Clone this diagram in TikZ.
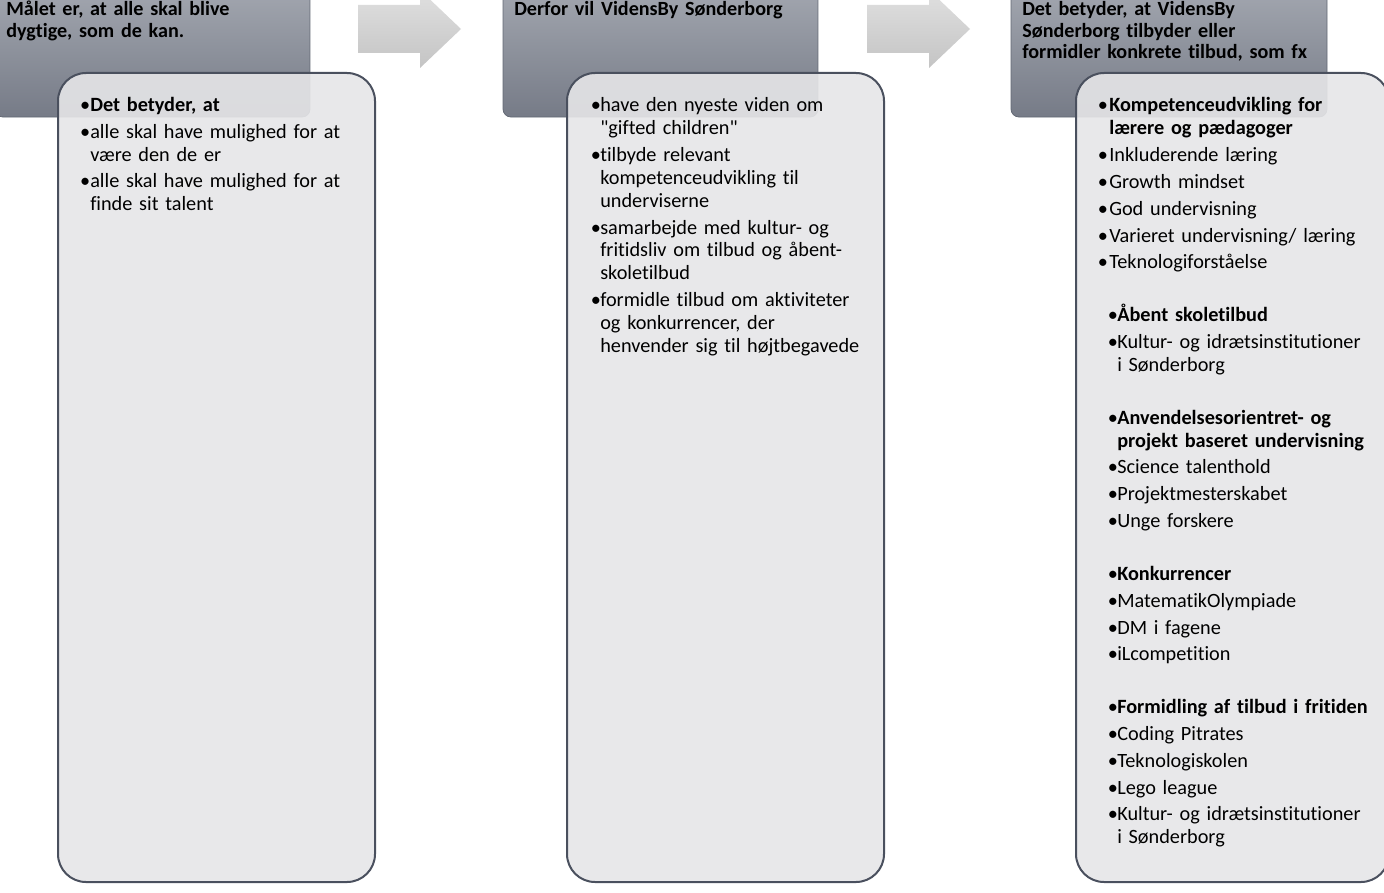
\documentclass[tikz,border=0pt]{standalone}
\usepackage{fontspec}
\setmainfont{Carlito}[Ligatures={CommonOff,TeXOff}]
\usetikzlibrary{positioning}
\definecolor{hdtop}{RGB}{172,176,184}
\definecolor{hdbot}{RGB}{118,123,135}
\definecolor{hdline}{RGB}{98,104,116}
\definecolor{boxfill}{RGB}{230,230,232}
\definecolor{boxline}{RGB}{74,80,94}
\definecolor{piltop}{RGB}{224,224,224}
\definecolor{pilbot}{RGB}{196,196,196}
% bullet hanging in the left margin
\newcommand{\pkt}[2][0pt]{\leavevmode\llap{•\kern#1}#2\par}
\newcommand{\grp}{\vspace{19.6pt}}

\begin{document}
\begin{tikzpicture}[x=0.75pt,y=-0.75pt,
  header/.style={top color=hdtop,bottom color=hdbot,draw=hdline,line width=0.6pt,rounded corners=6pt},
  felt/.style={fill=boxfill,fill opacity=0.9,draw=boxline,line width=1.5pt,rounded corners=21pt},
  pil/.style={top color=piltop,bottom color=pilbot},
  overskrift/.style={anchor=base west,inner sep=0pt,text width=300pt,align=left,
    font=\fontsize{15.1}{16.1}\selectfont\bfseries},
  punkter/.style={anchor=base west,inner sep=0pt,text width=300pt,align=left,
    font=\fontsize{15.2}{17.1}\selectfont}]
  \useasboundingbox (0,0) rectangle (1384,892);
  \clip (0,0) rectangle (1384,892);

  % Levels
  \def\HDBOT{117}
  \def\BOXTOP{73}
  \def\BOXBOT{882}

  % --- Headers ---
  \path[header] (-5,-40) rectangle (310,\HDBOT);
  \path[header] (503,-40) rectangle (818,\HDBOT);
  \path[header] (1011,-40) rectangle (1327,\HDBOT);

  % Block arrows
  \path[pil] (358,5) -- (420,5) -- (420,-10) -- (461,29)
    -- (420,68) -- (420,53) -- (358,53) -- cycle;
  \path[pil] (867,5) -- (929,5) -- (929,-10) -- (970,29)
    -- (929,68) -- (929,53) -- (867,53) -- cycle;

  % --- Boxes ---
  \path[felt] (58,\BOXTOP) rectangle (375,\BOXBOT);
  \path[felt] (567,\BOXTOP) rectangle (884,\BOXBOT);
  \path[felt] (1076,\BOXTOP) rectangle (1389,\BOXBOT);

  % Header texts
  \node[overskrift] (h1) at (6,16)
    {Målet er, at alle skal blive\\dygtige, som de kan.};
  \node[overskrift] (h2) at (514,16)
    {Derfor vil VidensBy Sønderborg};
  \node[overskrift] (h3) at (1022,16)
    {Det betyder, at VidensBy\\Sønderborg tilbyder eller\\formidler konkrete tilbud, som fx};

  % --- Column 1 ---
  \node[punkter] (t1) at (90,111.5) {\parindent=0pt\parskip=3pt%
    \pkt{\textbf{Det betyder, at}}%
    \pkt{alle skal have mulighed for at\newline være den de er}%
    \pkt{alle skal have mulighed for at\newline finde sit talent}};

  % --- Column 2 ---
  \node[punkter] (t2) at (600,112) {\parindent=0pt\parskip=3pt%
    \pkt[-0.5pt]{have den nyeste viden om\newline "gifted children"}%
    \pkt[-0.5pt]{tilbyde relevant\newline kompetenceudvikling til\newline underviserne}%
    \pkt[-0.5pt]{samarbejde med kultur- og\newline fritidsliv om tilbud og åbent-\newline skoletilbud}%
    \pkt[-0.5pt]{formidle tilbud om aktiviteter\newline og konkurrencer, der\newline henvender sig til højtbegavede}};

  % --- Column 3 ---
  \node[punkter] (t3) at (1109,112) {\parindent=0pt\parskip=3pt%
    \pkt[1pt]{\textbf{Kompetenceudvikling for\newline lærere og pædagoger}}%
    \pkt[1pt]{Inkluderende læring}%
    \pkt[1pt]{Growth mindset}%
    \pkt[1pt]{God undervisning}%
    \pkt[1pt]{Varieret undervisning/ læring}%
    \pkt[1pt]{Teknologiforståelse}%
    \grp\leftskip=6pt
    \pkt[-0.5pt]{\textbf{Åbent skoletilbud}}%
    \pkt[-0.5pt]{Kultur- og idrætsinstitutioner\newline i Sønderborg}%
    \grp
    \pkt[-0.5pt]{\textbf{Anvendelsesorientret- og\newline projekt baseret undervisning}}%
    \pkt[-0.5pt]{Science talenthold}%
    \pkt[-0.5pt]{Projektmesterskabet}%
    \pkt[-0.5pt]{Unge forskere}%
    \grp
    \pkt[-0.5pt]{\textbf{Konkurrencer}}%
    \pkt[-0.5pt]{MatematikOlympiade}%
    \pkt[-0.5pt]{DM i fagene}%
    \pkt[-0.5pt]{iLcompetition}%
    \grp
    \pkt[-0.5pt]{\textbf{Formidling af tilbud i fritiden}}%
    \pkt[-0.5pt]{Coding Pitrates}%
    \pkt[-0.5pt]{Teknologiskolen}%
    \pkt[-0.5pt]{Lego league}%
    \pkt[-0.5pt]{Kultur- og idrætsinstitutioner\newline i Sønderborg}};
\end{tikzpicture}
\end{document}
